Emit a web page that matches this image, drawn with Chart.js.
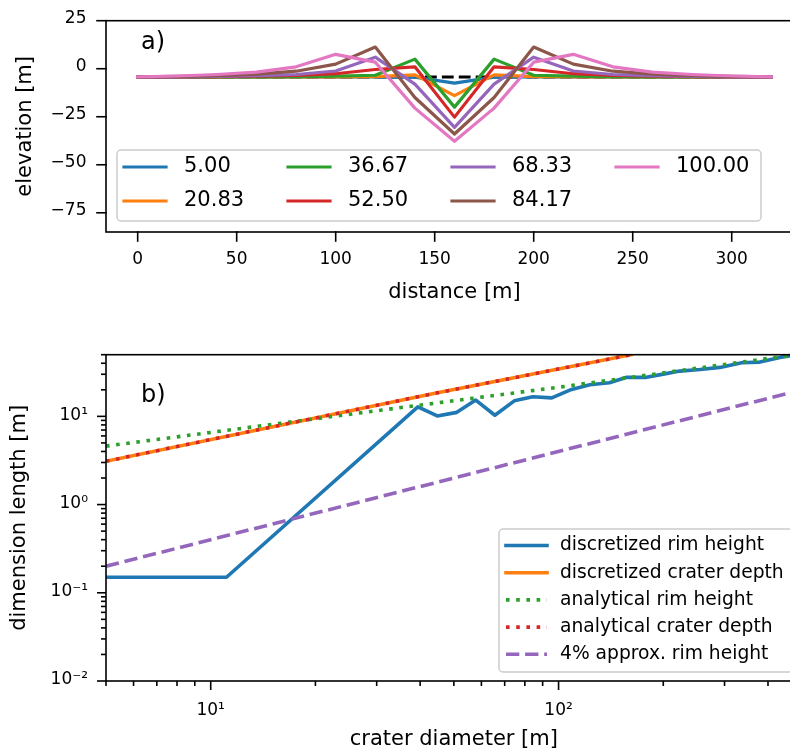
<!DOCTYPE html>
<html>
<head>
<meta charset="utf-8">
<title>Crater profiles and scaling</title>
<script src="https://cdn.jsdelivr.net/npm/chart.js@4.4.0/dist/chart.umd.min.js"></script>
<style>
  html, body { margin: 0; padding: 0; background: #fff; overflow: hidden; }
  #wrap { position: relative; width: 790px; height: 755px; overflow: hidden; background: #fff; }
  #wrap canvas { position: absolute; left: 0; }
  #profile { top: 0; }
  #scaling { top: 320px; }
</style>
</head>
<body>
<div id="wrap">
  <canvas id="profile" width="830" height="320"></canvas>
  <canvas id="scaling" width="830" height="435"></canvas>
</div>
<script>
// a) elevation along the transect for each crater diameter
const distance = [0, 20, 40, 60, 80, 100, 120, 140, 160, 180, 200, 220, 240, 260, 280, 300, 320];
const diameterLabels = ['5.00', '20.83', '36.67', '52.50', '68.33', '84.17', '100.00'];
const surfaceBefore = [-4.3, -4.3, -4.3, -4.3, -4.3, -4.3, -4.3, -4.3, -4.3, -4.3, -4.3, -4.3, -4.3, -4.3, -4.3, -4.3, -4.3];
const elevD5 = [-4.3, -4.3, -4.3, -4.3, -4.3, -4.3, -4.3, -4.4, -7.5, -4.4, -4.3, -4.3, -4.3, -4.3, -4.3, -4.3, -4.3];
const elevD21 = [-4.3, -4.3, -4.3, -4.3, -4.3, -4.3, -4.1, -3.2, -14.0, -3.2, -4.1, -4.3, -4.3, -4.3, -4.3, -4.3, -4.3];
const elevD37 = [-4.3, -4.3, -4.3, -4.3, -4.1, -3.9, -3.4, 5.0, -20.0, 5.0, -3.4, -3.9, -4.1, -4.3, -4.3, -4.3, -4.3];
const elevD53 = [-4.3, -4.2, -4.1, -3.9, -3.5, -2.6, -0.4, 1.0, -25.2, 1.0, -0.4, -2.6, -3.5, -3.9, -4.1, -4.2, -4.3];
const elevD68 = [-4.3, -4.2, -4.0, -3.6, -3.0, -1.2, 6.0, -8.0, -30.5, -8.0, 6.0, -1.2, -3.0, -3.6, -4.0, -4.2, -4.3];
const elevD84 = [-4.2, -4.0, -3.6, -2.8, -1.3, 2.4, 11.3, -15.0, -34.0, -15.0, 11.3, 2.4, -1.3, -2.8, -3.6, -4.0, -4.2];
const elevD100 = [-4.2, -3.8, -3.0, -1.8, 1.0, 7.5, 3.4, -20.5, -37.8, -20.5, 3.4, 7.5, 1.0, -1.8, -3.0, -3.8, -4.2];
const elevationTicks = [-75, -50, -25, 0, 25];
const distanceTicks = [0, 50, 100, 150, 200, 250, 300];

// b) rim height and crater depth against crater diameter
const rimDiameter = [5, 11.1, 39.4, 44.8, 51.0, 57.8, 65.6, 74.6, 84.3, 95.6, 109, 123, 140, 157, 179, 200, 223, 255, 291, 336, 379, 433, 500];
const rimHeight = [0.15, 0.15, 12.8, 10.1, 11.1, 15.3, 10.3, 15.0, 16.7, 16.2, 20.2, 22.8, 24.0, 27.7, 27.7, 30.1, 32.6, 34.0, 35.9, 40.5, 41.2, 46.6, 51.0];
const depthDiameter = [5, 44.5, 162];
const craterDepth = [3.1, 18.4, 50];
const analyticRimDiameter = [5, 31.1, 105.6, 433, 500];
const analyticRimHeight = [4.6, 11.8, 22.0, 47.3, 50.8];
const analyticDepthDiameter = [5, 44.5, 162];
const analyticDepth = [3.1, 18.4, 50];
const approxDiameter = [5, 500];
const approxRimHeight = [0.2, 20];
const seriesLabels = ['discretized rim height', 'discretized crater depth', 'analytical rim height',
                      'analytical crater depth', '4% approx. rim height'];
const diameterTicks = [5, 6, 7, 8, 9, 10, 20, 30, 40, 50, 60, 70, 80, 90, 100, 200, 300, 400, 500];
const diameterMajor = [10, 100];
const diameterMajorLabels = ['10\u00b9', '10\u00b2'];
const lengthTicks = [0.01, 0.02, 0.03, 0.04, 0.05, 0.06, 0.07, 0.08, 0.09,
                     0.1, 0.2, 0.3, 0.4, 0.5, 0.6, 0.7, 0.8, 0.9,
                     1, 2, 3, 4, 5, 6, 7, 8, 9, 10, 20, 30, 40, 50];
const lengthMajor = [0.01, 0.1, 1, 10];
const lengthMajorLabels = ['10\u207b\u00b2', '10\u207b\u00b9', '10\u2070', '10\u00b9'];

const C = {
  blue: '#1f77b4', orange: '#ff7f0e', green: '#2ca02c', red: '#d62728',
  purple: '#9467bd', brown: '#8c564b', pink: '#e377c2'
};
const FONT = '"DejaVu Sans"';

function pts(xs, ys) {
  return xs.map((x, i) => ({ x: x, y: ys[i] }));
}

function majorLabel(v, majors, labels) {
  const i = majors.findIndex(m => Math.abs(m - v) / m < 1e-6);
  return i >= 0 ? labels[i] : '';
}

// frame, tick marks, panel tag and legend box drawn on top of the data
const framePlugin = {
  id: 'frame',
  afterDraw(chart, args, opts) {
    const ctx = chart.ctx;
    const a = chart.chartArea;
    ctx.save();

    const lg = opts.legend;
    if (lg) {
      const [x0, y0, x1, y1] = lg.box;
      ctx.beginPath();
      ctx.roundRect(x0, y0, x1 - x0, y1 - y0, 4);
      ctx.fillStyle = 'rgba(255,255,255,0.8)';
      ctx.fill();
      ctx.strokeStyle = '#cccccc';
      ctx.lineWidth = 1.5;
      ctx.stroke();
      ctx.font = lg.size + 'px ' + FONT;
      ctx.fillStyle = '#000';
      ctx.textBaseline = 'middle';
      ctx.textAlign = 'left';
      lg.items.forEach(it => {
        ctx.beginPath();
        ctx.strokeStyle = it.color;
        ctx.lineWidth = it.width;
        ctx.setLineDash(it.dash || []);
        ctx.lineCap = it.dash ? 'butt' : 'square';
        ctx.moveTo(it.x, it.y);
        ctx.lineTo(it.x + lg.handle, it.y);
        ctx.stroke();
        ctx.setLineDash([]);
        ctx.fillText(it.label, it.x + lg.handle + lg.gap, it.y);
      });
    }

    if (opts.tag) {
      ctx.font = '24px ' + FONT;
      ctx.fillStyle = '#000';
      ctx.textBaseline = 'alphabetic';
      ctx.textAlign = 'left';
      ctx.fillText(opts.tag.text, opts.tag.x, opts.tag.y);
    }

    ctx.strokeStyle = '#000';
    ctx.lineWidth = 1.6;
    ctx.setLineDash([]);
    const xs = chart.scales.x, ys = chart.scales.y;
    xs.ticks.forEach(t => {
      const p = xs.getPixelForValue(t.value);
      if (p < a.left - 0.5 || p > a.right + 0.5) return;
      const len = t.label ? 9 : 5;
      ctx.beginPath();
      ctx.moveTo(p, a.bottom);
      ctx.lineTo(p, a.bottom + len);
      ctx.stroke();
    });
    ys.ticks.forEach(t => {
      const p = ys.getPixelForValue(t.value);
      if (p < a.top - 0.5 || p > a.bottom + 0.5) return;
      const len = t.label ? 9 : 5;
      ctx.beginPath();
      ctx.moveTo(a.left, p);
      ctx.lineTo(a.left - len, p);
      ctx.stroke();
    });
    ctx.strokeRect(a.left, a.top, a.right - a.left, a.bottom - a.top);
    ctx.restore();
  }
};

function axisBase(tickSize) {
  return {
    grid: { display: true, drawOnChartArea: false, tickLength: 9, tickColor: 'rgba(0,0,0,0)' },
    border: { display: false },
    ticks: { color: '#000', font: { family: FONT, size: tickSize }, autoSkip: false, maxRotation: 0, minRotation: 0 }
  };
}

// ---------- a) profiles ----------
const profileSeries = [elevD5, elevD21, elevD37, elevD53, elevD68, elevD84, elevD100];
const profileColors = [C.blue, C.orange, C.green, C.red, C.purple, C.brown, C.pink];

const profileSets = profileSeries.map((s, i) => ({
  label: diameterLabels[i],
  data: pts(distance, s),
  borderColor: profileColors[i],
  borderWidth: 3.2,
  borderCapStyle: 'square',
  borderJoinStyle: 'round',
  order: profileSeries.length - i
}));
profileSets.push({
  label: 'surface',
  data: pts(distance, surfaceBefore),
  borderColor: '#000',
  borderWidth: 3.2,
  borderDash: [11.8, 5.1],
  order: 20
});

const xA = axisBase(17);
const yA = axisBase(17);

new Chart(document.getElementById('profile'), {
  type: 'line',
  data: { datasets: profileSets },
  options: {
    responsive: false,
    animation: false,
    events: [],
    layout: { padding: { left: 0, top: 15, right: 27, bottom: 0 } },
    elements: { point: { radius: 0 }, line: { tension: 0 } },
    plugins: {
      legend: { display: false },
      tooltip: { enabled: false },
      frame: {
        tag: { text: 'a)', x: 141, y: 49 },
        legend: {
          box: [117, 150, 761, 221], size: 21, handle: 42, gap: 18,
          items: diameterLabels.map((l, i) => ({
            label: l, color: profileColors[i], width: 3.2,
            x: 124 + Math.floor(i / 2) * 164, y: 167 + (i % 2) * 34
          }))
        }
      }
    },
    scales: {
      x: Object.assign(xA, {
        type: 'linear', min: -16, max: 336,
        afterBuildTicks: s => { s.ticks = distanceTicks.map(v => ({ value: v })); },
        afterFit: s => { s.height = 88; },
        ticks: Object.assign(xA.ticks, { padding: 8, callback: v => String(v) }),
        title: { display: true, text: 'distance [m]', color: '#000',
                 font: { family: FONT, size: 21 }, padding: { top: 0, bottom: 15 } }
      }),
      y: Object.assign(yA, {
        type: 'linear', min: -85, max: 25,
        afterBuildTicks: s => { s.ticks = elevationTicks.map(v => ({ value: v })); },
        afterFit: s => { s.width = 106; },
        ticks: Object.assign(yA.ticks, { padding: 10.5, labelOffset: -2,
          callback: v => String(v).replace('-', '\u2212') }),
        title: { display: true, text: 'elevation [m]', color: '#000',
                 font: { family: FONT, size: 21 }, padding: { top: 13, bottom: 0 } }
      })
    }
  },
  plugins: [framePlugin]
});

// ---------- b) scaling ----------
const dotted = [3.6, 6.6];
const dashed = [13.3, 5.8];
const scalingSets = [
  { label: seriesLabels[0], data: pts(rimDiameter, rimHeight), borderColor: C.blue,
    borderCapStyle: 'square', order: 5 },
  { label: seriesLabels[1], data: pts(depthDiameter, craterDepth), borderColor: C.orange,
    borderCapStyle: 'square', order: 4 },
  { label: seriesLabels[2], data: pts(analyticRimDiameter, analyticRimHeight), borderColor: C.green,
    borderDash: dotted, order: 3 },
  { label: seriesLabels[3], data: pts(analyticDepthDiameter, analyticDepth), borderColor: C.red,
    borderDash: dotted, order: 2 },
  { label: seriesLabels[4], data: pts(approxDiameter, approxRimHeight), borderColor: C.purple,
    borderDash: dashed, order: 1 }
].map(d => Object.assign({ borderWidth: 3.6, borderJoinStyle: 'round' }, d));

const xB = axisBase(17);
const yB = axisBase(17);

new Chart(document.getElementById('scaling'), {
  type: 'line',
  data: { datasets: scalingSets },
  options: {
    responsive: false,
    animation: false,
    events: [],
    layout: { padding: { left: 0, top: 34.7, right: 28.3, bottom: 0 } },
    elements: { point: { radius: 0 }, line: { tension: 0 } },
    plugins: {
      legend: { display: false },
      tooltip: { enabled: false },
      frame: {
        tag: { text: 'b)', x: 141, y: 82 },
        legend: {
          box: [499, 209, 793, 352], size: 18.7, handle: 41, gap: 13,
          items: scalingSets.map((d, i) => ({
            label: seriesLabels[i], color: d.borderColor, width: 3.6, dash: d.borderDash,
            x: 506, y: 225.5 + i * 27.2
          }))
        }
      }
    },
    scales: {
      x: Object.assign(xB, {
        type: 'logarithmic', min: 5, max: 500,
        afterBuildTicks: s => { s.ticks = diameterTicks.map(v => ({ value: v })); },
        afterFit: s => { s.height = 74; },
        ticks: Object.assign(xB.ticks, { padding: 10.5,
          callback: v => majorLabel(v, diameterMajor, diameterMajorLabels) }),
        title: { display: true, text: 'crater diameter [m]', color: '#000',
                 font: { family: FONT, size: 21 }, padding: { top: 0, bottom: 2.8 } }
      }),
      y: Object.assign(yB, {
        type: 'logarithmic', min: 0.01, max: 50,
        afterBuildTicks: s => { s.ticks = lengthTicks.map(v => ({ value: v })); },
        afterFit: s => { s.width = 106; },
        ticks: Object.assign(yB.ticks, { padding: 9, labelOffset: -1,
          callback: v => majorLabel(v, lengthMajor, lengthMajorLabels) }),
        title: { display: true, text: 'dimension length [m]', color: '#000',
                 font: { family: FONT, size: 21 }, padding: { top: 6.7, bottom: 0 } }
      })
    }
  },
  plugins: [framePlugin]
});
</script>
</body>
</html>
